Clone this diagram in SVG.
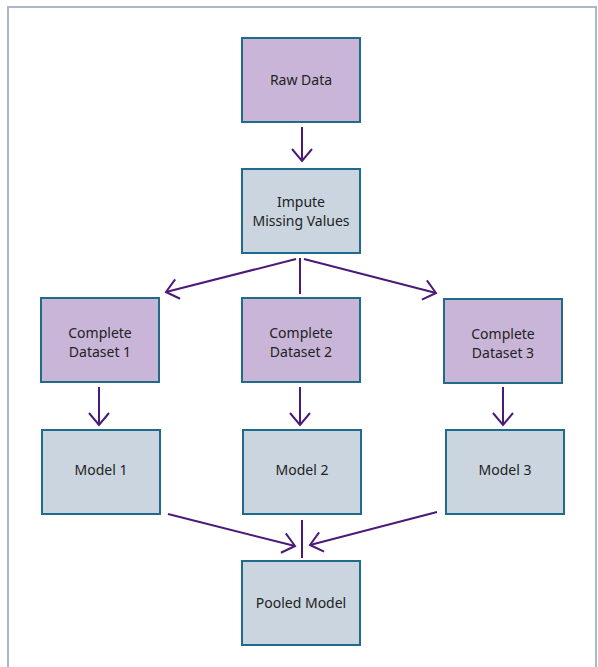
<svg xmlns="http://www.w3.org/2000/svg" width="598" height="667" viewBox="0 0 598 667">
<style>
.frame{fill:#ffffff;stroke:#a8b7cc;stroke-width:2}
.p{fill:#c9b5d7;stroke:#1e6b8c;stroke-width:2}
.g{fill:#cad5df;stroke:#1e6b8c;stroke-width:2}
.t{font-family:"Noto Sans","Open Sans",sans-serif;font-size:14px;fill:#222;text-anchor:middle}
.c{stroke:#4b1a78;stroke-width:2;fill:none}
</style>
<defs>
<marker id="ah" markerUnits="userSpaceOnUse" markerWidth="30" markerHeight="30" viewBox="-15 -15 30 30" refX="0" refY="0" orient="auto">
<path d="M-12,-10 L0,0 L-12,10" fill="none" stroke="#4b1a78" stroke-width="2"/>
</marker>
</defs>
<rect class="frame" x="8" y="7" width="588" height="665"/>
<g id="connectors">
<line class="c" x1="302" y1="127" x2="302" y2="161" marker-end="url(#ah)"/>
<line class="c" x1="296" y1="259" x2="166" y2="292" marker-end="url(#ah)"/>
<line class="c" x1="300" y1="258" x2="300" y2="294"/>
<line class="c" x1="304" y1="259" x2="436" y2="293" marker-end="url(#ah)"/>
<line class="c" x1="99" y1="387" x2="99" y2="425" marker-end="url(#ah)"/>
<line class="c" x1="300" y1="387" x2="300" y2="425" marker-end="url(#ah)"/>
<line class="c" x1="503" y1="387" x2="503" y2="425" marker-end="url(#ah)"/>
<line class="c" x1="168" y1="514" x2="295" y2="546" marker-end="url(#ah)"/>
<line class="c" x1="302" y1="520" x2="302" y2="558"/>
<line class="c" x1="437" y1="512" x2="310" y2="545" marker-end="url(#ah)"/>
</g>
<g id="raw"><rect class="p" x="242" y="38" width="118" height="84"/><text class="t" x="301" y="85">Raw Data</text></g>
<g id="impute"><rect class="g" x="242" y="169" width="118" height="84"/><text class="t" x="301" y="207">Impute</text><text class="t" x="301" y="226">Missing Values</text></g>
<g id="ds1"><rect class="p" x="41" y="298" width="118" height="84"/><text class="t" x="100" y="338">Complete</text><text class="t" x="100" y="357">Dataset 1</text></g>
<g id="ds2"><rect class="p" x="242" y="298" width="118" height="84"/><text class="t" x="301" y="338">Complete</text><text class="t" x="301" y="357">Dataset 2</text></g>
<g id="ds3"><rect class="p" x="444" y="299" width="118" height="84"/><text class="t" x="503" y="339">Complete</text><text class="t" x="503" y="358">Dataset 3</text></g>
<g id="m1"><rect class="g" x="42" y="430" width="118" height="84"/><text class="t" x="101" y="475">Model 1</text></g>
<g id="m2"><rect class="g" x="243" y="430" width="118" height="84"/><text class="t" x="302" y="475">Model 2</text></g>
<g id="m3"><rect class="g" x="446" y="430" width="118" height="84"/><text class="t" x="505" y="475">Model 3</text></g>
<g id="pooled"><rect class="g" x="242" y="561" width="118" height="84"/><text class="t" x="301" y="608">Pooled Model</text></g>
</svg>
